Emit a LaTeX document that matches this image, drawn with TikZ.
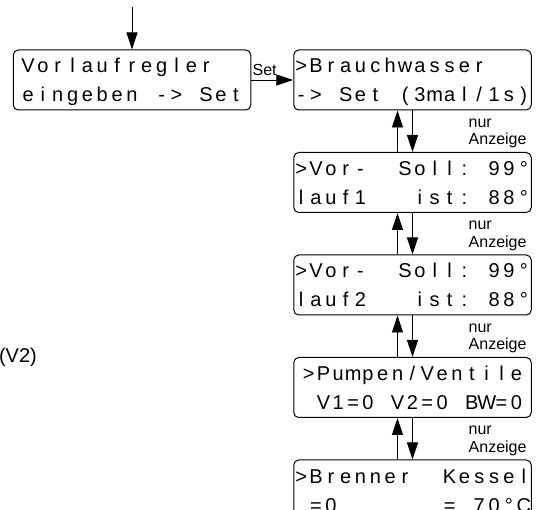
\documentclass[tikz,border=0pt]{standalone}
\usepackage{fontspec}
\setmainfont{Liberation Sans}
\usetikzlibrary{arrows.meta,positioning,calc}
\tikzset{
 lcdbox/.style={draw,rounded corners=5pt,line width=1pt,align=left,inner sep=0pt,
             minimum width=237.5pt,minimum height=60pt,font=\fontsize{20}{29}\selectfont},
 arrow/.style={-{Triangle[length=17pt,width=11pt]},line width=0.8pt},
 lbl/.style={inner sep=1pt,font=\fontsize{16}{18}\selectfont},
 note/.style={inner sep=0pt,align=left,font=\fontsize{16}{17.5}\selectfont}
}
% one line of the 16x2 display, one cell per character (~ = empty cell)
\newlength{\lcdcell}
\setlength{\lcdcell}{14.84pt}
\ExplSyntaxOn
\NewDocumentCommand{\lcd}{m}
 {
  \rule{0pt}{15pt}
  \str_map_inline:nn {#1}
   {
    \str_if_eq:eeTF {##1} {\c_tilde_str}
     { \hbox_to_wd:nn {\lcdcell} {} }
     { \makebox[\lcdcell]{\smash{##1}} }
   }
 }
\ExplSyntaxOff

\begin{document}
\begin{tikzpicture}[x=1pt,y=1pt,node distance=41.5pt and 42pt]
\useasboundingbox (0,0) rectangle (541,-510);
\clip (0,0) rectangle (541,-510);
\node[lcdbox] (vr) at (132,-80) {\lcd{Vorlaufregler}\\\lcd{eingeben -> Set}};
\node[lcdbox,right=of vr] (bw) {\lcd{>Brauchwasser}\\\lcd{-> Set (3mal/1s)}};
\node[lcdbox,below=of bw] (vl1) {\lcd{>Vor-~~Soll: 99°}\\\lcd{lauf1~~~ist: 88°}};
\node[lcdbox,below=of vl1] (vl2) {\lcd{>Vor-~~Soll: 99°}\\\lcd{lauf2~~~ist: 88°}};
\node[lcdbox,below=of vl2] (pv) {\lcd{>Pumpen/Ventile}\\\lcd{~V1=0 V2=0 BW=0}};
\node[lcdbox,below=of pv] (bk) {\lcd{>Brenner~~Kessel}\\\lcd{~=0~~~~~~~= 70°C}};
\node[lbl,anchor=base east,font=\fontsize{20}{22}\selectfont] (v2) at (38,-363) {(V2)};
\coordinate[above=42pt of vr] (in);
\draw[arrow] (in) -- (vr);
\draw[arrow] (vr) -- node[lbl,anchor=south west,pos=0,yshift=3pt] {Set} (bw);
% Weiterschalten nach unten, zurueck nach oben
\draw[arrow] (bw) -- (vl1);
\draw[arrow] ([xshift=-15pt]vl1.north) -- ([xshift=-15pt]bw.south);
\node[note,anchor=base west] at ($(bw.south)+(56,-34.5)$) {nur\\Anzeige};
\draw[arrow] (vl1) -- (vl2);
\draw[arrow] ([xshift=-15pt]vl2.north) -- ([xshift=-15pt]vl1.south);
\node[note,anchor=base west] at ($(vl1.south)+(56,-34.5)$) {nur\\Anzeige};
\draw[arrow] (vl2) -- (pv);
\draw[arrow] ([xshift=-15pt]pv.north) -- ([xshift=-15pt]vl2.south);
\node[note,anchor=base west] at ($(vl2.south)+(56,-34.5)$) {nur\\Anzeige};
\draw[arrow] (pv) -- (bk);
\draw[arrow] ([xshift=-15pt]bk.north) -- ([xshift=-15pt]pv.south);
\node[note,anchor=base west] at ($(pv.south)+(56,-34.5)$) {nur\\Anzeige};
\end{tikzpicture}
\end{document}
